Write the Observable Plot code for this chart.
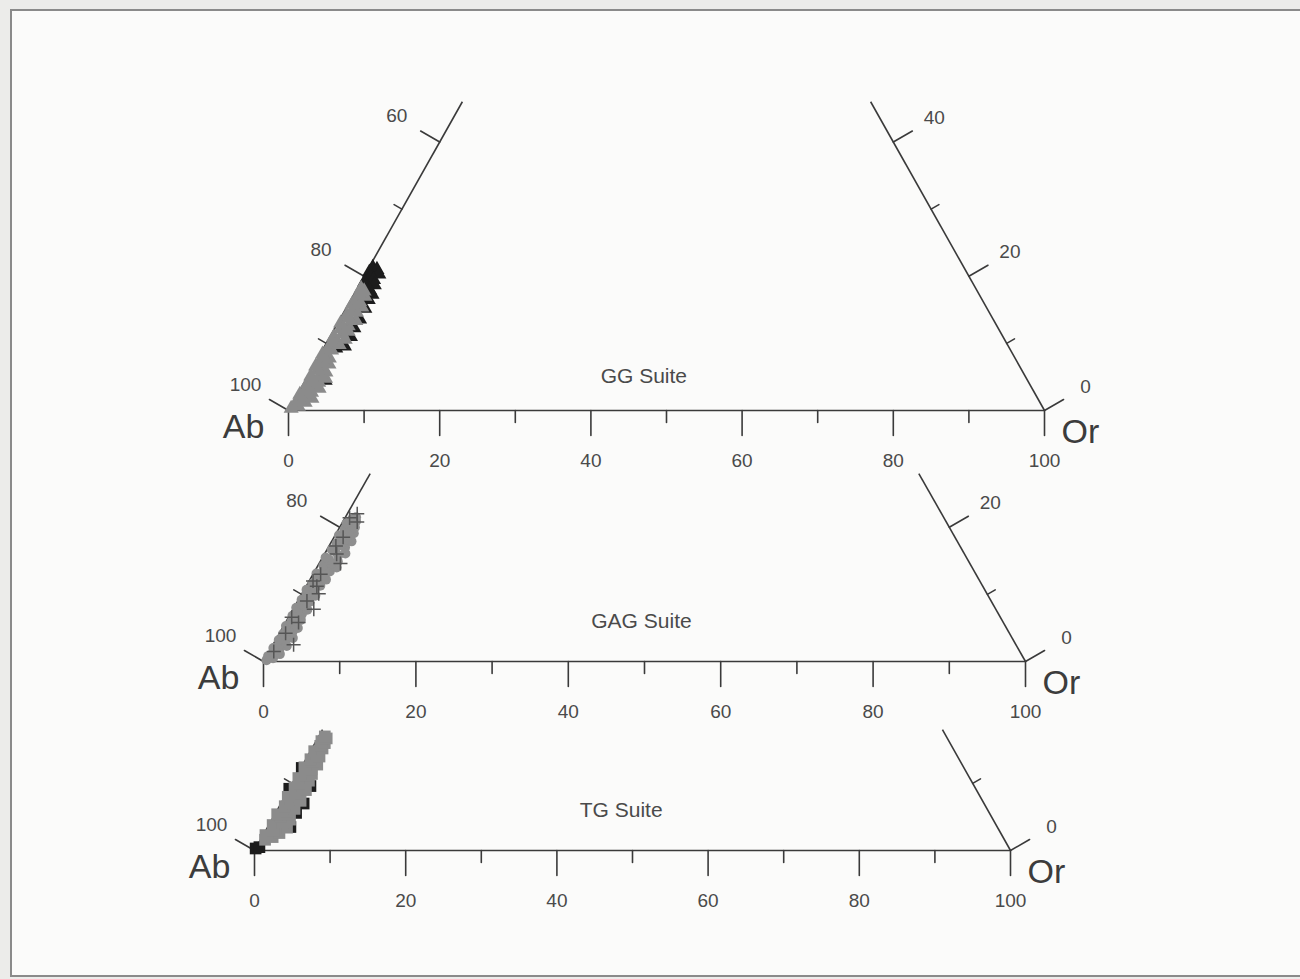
<!DOCTYPE html>
<html>
<head>
<meta charset="utf-8">
<script src="https://cdn.jsdelivr.net/npm/d3@7"></script>
<script src="https://cdn.jsdelivr.net/npm/@observablehq/plot@0.6"></script>
<style>
  html, body { margin: 0; padding: 0; background: #ececea; }
  #page { position: relative; width: 1300px; height: 979px; overflow: hidden; background: #ececea; }
  #frame { position: absolute; left: 10px; top: 9px; width: 1300px; height: 964px;
           border-top: 2px solid #8a8a8a; border-left: 2px solid #8a8a8a; border-bottom: 2px solid #8a8a8a;
           background: #fbfbfa; }
  .panel { position: absolute; left: 0; }
  .panel svg { overflow: visible; }
</style>
</head>
<body>
<div id="page"><div id="frame"></div></div>
<script>
// Feldspar analyses, each point as [Ab, Or, An] in mol %.
// GG Suite
const ggGray = [
  [99.5,0.2,0.3],[98.4,1.0,0.6],[98.7,0.4,0.9],[97.2,1.6,1.2],[97.8,0.7,1.5],[96.0,2.2,1.8],
  [96.8,1.1,2.1],[97.3,0.3,2.4],[95.6,1.7,2.7],[96.2,0.8,3.0],[94.3,2.4,3.3],[95.1,1.3,3.6],
  [95.6,0.5,3.9],[93.9,1.9,4.2],[94.5,1.0,4.5],[92.7,2.5,4.8],[94.5,0.4,5.1],[93.1,1.5,5.4],
  [92.2,2.1,5.7],[93.2,0.8,6.0],[92.3,1.4,6.3],[93.1,0.3,6.6],[91.2,1.9,6.9],[91.8,1.0,7.2],
  [92.0,0.5,7.5],[90.7,1.5,7.8],[91.1,0.8,8.1],[91.3,0.3,8.4],
  [89.8,1.2,9.0],[90.0,0.6,9.4],[88.4,1.8,9.8],[88.9,0.9,10.2],[87.2,2.2,10.6],[88.5,0.5,11.0],
  [87.2,1.4,11.4],[86.2,2.0,11.8],[87.0,0.8,12.2],[85.8,1.6,12.6],[86.6,0.4,13.0],[84.4,2.2,13.4],
  [85.1,1.1,13.8],[85.2,0.6,14.2],[83.7,1.7,14.6],[84.0,1.0,15.0],[82.6,2.0,15.4],[83.7,0.5,15.8],
  [82.5,1.3,16.2],[82.6,0.8,16.6],[81.4,1.6,17.0],[82.0,0.6,17.4],[81.1,1.1,17.8],[81.3,0.5,18.2]
];
const ggBlack = [
  [78.2,0.5,21.3],[77.8,1.2,21.0],[79.0,0.4,20.6],[77.9,1.8,20.3],[79.2,0.9,19.9],[79.0,1.5,19.5],
  [80.4,0.5,19.1],[79.3,2.0,18.7],[80.6,1.0,18.4],[80.3,1.8,17.9],[80.3,2.4,17.3],[81.2,2.3,16.5],
  [82.3,2.5,15.2],[83.8,2.6,13.6],[85.2,2.5,12.3],[86.3,2.7,11.0],[89.9,0.6,9.5],[89.1,1.6,9.3],
  [87.8,2.6,9.6],[92.9,2.6,4.5]
];
// GAG Suite
const gagGray = [
  [99.5,0.3,0.2],[98.5,1.0,0.5],[99.0,0.2,0.8],[97.3,1.6,1.1],[98.0,0.6,1.4],[97.1,1.2,1.7],
  [97.7,0.3,2.0],[95.8,1.9,2.3],[96.5,0.9,2.6],[95.7,1.4,2.9],[96.4,0.4,3.2],[94.4,2.1,3.5],
  [95.2,1.0,3.8],[95.4,0.5,4.1],[94.0,1.6,4.4],[94.4,0.9,4.7],[93.0,2.0,5.0],[94.4,0.3,5.3],
  [93.1,1.3,5.6],[93.4,0.7,5.9],[92.0,1.8,6.2],[92.4,1.1,6.5],[92.8,0.4,6.8],[91.4,1.5,7.1],
  [91.8,0.8,7.4],[90.4,1.9,7.7],[91.7,0.3,8.0],[90.5,1.2,8.3],[90.7,0.7,8.6],[89.5,1.6,8.9],
  [90.4,0.4,9.2],[89.4,1.1,9.5],[88.3,1.9,9.8],[89.3,0.6,10.1],[88.2,1.4,10.4],[89.0,0.3,10.7],
  [88.0,1.0,11.0],[86.9,1.8,11.3],[87.8,0.6,11.6],[86.8,1.3,11.9],[85.7,2.1,12.2],[86.7,0.8,12.5],
  [85.7,1.5,12.8],[86.5,0.4,13.1],[84.6,2.0,13.4],[85.2,1.1,13.7],[83.4,2.6,14.0],[85.0,0.7,14.3],
  [83.8,1.6,14.6],[82.8,2.3,14.9],[83.8,1.0,15.2],[84.1,0.4,15.5],[82.3,1.9,15.8],[81.2,2.7,16.1],
  [82.4,1.2,16.4],[82.7,0.6,16.7],[80.8,2.2,17.0],[81.2,1.5,17.3],[81.6,0.8,17.6],[79.5,2.6,17.9],
  [80.0,1.8,18.2],[80.5,1.0,18.5],[80.7,0.5,18.8],[78.6,2.3,19.1],[79.1,1.5,19.4],[79.5,0.8,19.7],
  [78.0,2.0,20.0],[78.5,1.2,20.3],[78.8,0.6,20.6],[77.4,1.7,20.9],[77.8,1.0,21.2],[77.1,1.4,21.5]
];
const gagCross = [
  [76.7,1.3,22.0],[77.3,1.9,20.8],[78.0,0.6,21.4],[80.3,1.2,18.5],[81.9,0.9,17.2],[82.6,2.8,14.6],
  [82.4,1.6,16.0],[86.0,1.0,13.0],[87.5,0.5,12.0],[87.4,1.4,11.2],[87.7,2.2,10.1],[89.8,1.2,9.0],
  [89.5,2.7,7.8],[93.0,0.4,6.6],[92.5,1.7,5.8],[95.0,0.8,4.2],[94.8,2.7,2.5],[97.9,0.6,1.5]
];
// TG Suite
const tgGray = [
  [97.8,0.6,1.6],[96.6,1.4,2.0],[97.4,0.3,2.3],[95.4,2.0,2.6],[96.0,1.0,3.0],[94.0,2.6,3.4],
  [95.7,0.5,3.8],[94.2,1.6,4.2],[93.0,2.4,4.6],[94.1,0.9,5.0],[92.8,1.8,5.4],[94.3,0.3,5.4],
  [92.9,1.3,5.8],[91.6,2.2,6.2],[92.7,0.7,6.6],[91.4,1.6,7.0],[90.2,2.4,7.4],[91.4,1.0,7.6],
  [91.6,0.4,8.0],[89.8,1.8,8.4],[90.3,1.1,8.6],[88.7,2.3,9.0],[90.0,0.6,9.4],[88.9,1.5,9.6],
  [89.1,0.9,10.0],[87.6,2.0,10.4],[88.8,0.4,10.8],[87.5,1.3,11.2],[86.7,1.9,11.4],[87.4,0.8,11.8],
  [86.4,1.5,12.1],[87.2,0.4,12.4],[85.3,1.9,12.8],[85.7,1.1,13.2],[85.8,0.6,13.6],[84.4,1.6,14.0],
  [84.6,1.0,14.4],[84.7,0.5,14.8],[83.4,1.4,15.2],[83.5,0.9,15.6],[82.7,1.3,16.0],[83.0,0.7,16.3],
  [82.1,1.2,16.7],[82.2,0.8,17.0]
];
const tgBlack = [
  [99.7,0.0,0.3],[99.1,0.4,0.5],[91.7,2.7,5.6],[87.8,2.6,9.6],[90.8,0.0,9.2],[90.0,3.0,7.0],
  [87.6,0.1,12.3],[93.5,3.0,3.5]
];

// Axis ticks (percent) and which ones carry labels
const orTicks = [0, 10, 20, 30, 40, 50, 60, 70, 80, 90, 100];
const orLabels = [0, 20, 40, 60, 80, 100];

const SQ3 = Math.sqrt(3) / 2;
// ternary composition -> cartesian (Ab at origin, Or at x = 100)
const tern = ([ab, or, an]) => ({x: or + an / 2, y: an * SQ3});

const font = "'Liberation Sans', Arial, Helvetica, sans-serif";
const ink = "#3a3a3a";
const textInk = "#4a4a4a";

// a plain line tick drawn by the vector mark
const tickShape = {draw(ctx, l) { ctx.moveTo(0, 0); ctx.lineTo(0, -l); }};

const panels = [
  {title: "GG Suite", top: 0, height: 480, ox: 288, oy: 410, kx: 7.56, ky: 7.75, anMax: 46,
   sideTicks: [0, 10, 20, 30, 40], sideLabels: [0, 20, 40], titleAt: [47, 4.4],
   series: [
     {data: ggBlack, symbol: "triangle", fill: "#1c1c1c", r: 5.6},
     {data: ggGray, symbol: "triangle", fill: "#8b8b8b", r: 5.6}
   ]},
  {title: "GAG Suite", top: 480, height: 245, ox: 263, oy: 181, kx: 7.62, ky: 7.75, anMax: 28,
   sideTicks: [0, 10, 20], sideLabels: [0, 20], titleAt: [49.6, 5.2],
   series: [
     {data: gagGray, symbol: "circle", fill: "#8e8e8e", r: 5},
     {data: gagCross, symbol: "plus", stroke: "#555", r: 4.6}
   ]},
  {title: "TG Suite", top: 725, height: 254, ox: 254, oy: 125, kx: 7.56, ky: 7.75, anMax: 18,
   sideTicks: [0, 10], sideLabels: [0], titleAt: [48.5, 5.2],
   series: [
     {data: tgBlack, symbol: "square", fill: "#1c1c1c", r: 6.6},
     {data: tgGray, symbol: "square", fill: "#8b8b8b", r: 6.6}
   ]}
];

const page = document.getElementById("page");

for (const p of panels) {
  const a = p.anMax;
  // base edge plus the two truncated side edges
  const frameLines = [
    [[100, 0, 0], [0, 100, 0]],
    [[100, 0, 0], [100 - a, 0, a]],
    [[0, 100, 0], [0, 100 - a, a]]
  ].map(([s, e]) => {
    const u = tern(s), v = tern(e);
    return {x1: u.x, y1: u.y, x2: v.x, y2: v.y};
  });

  const bottom = orTicks.map(o => ({...tern([100 - o, o, 0]), major: orLabels.includes(o), label: String(o)}));
  const left = p.sideTicks.map(an => ({...tern([100 - an, 0, an]), major: p.sideLabels.includes(an), label: String(100 - an)}));
  const right = p.sideTicks.map(an => ({...tern([0, 100 - an, an]), major: p.sideLabels.includes(an), label: String(an)}));

  const vertices = [
    {...tern([100, 0, 0]), label: "Ab", dx: -45, dy: 17},
    {...tern([0, 100, 0]), label: "Or", dx: 36, dy: 22}
  ];

  const tickMarks = (rows, rot, majorLen, minorLen) => [
    Plot.vector(rows.filter(d => d.major), {x: "x", y: "y", length: majorLen, rotate: rot, anchor: "start",
      shape: tickShape, stroke: ink, strokeWidth: 1.6}),
    Plot.vector(rows.filter(d => !d.major), {x: "x", y: "y", length: minorLen, rotate: rot, anchor: "start",
      shape: tickShape, stroke: ink, strokeWidth: 1.6})
  ];

  const dataMarks = p.series.map(s => Plot.dot(s.data.map(tern), {
    x: "x", y: "y", symbol: s.symbol, r: s.r,
    fill: s.fill ?? "none", stroke: s.stroke ?? "none", strokeWidth: s.stroke ? 1.5 : 0
  }));

  const chart = Plot.plot({
    width: 1300,
    height: p.height,
    x: {domain: [0, 100], range: [p.ox, p.ox + 100 * p.kx], axis: null},
    y: {domain: [0, 100], range: [p.oy, p.oy - 100 * p.ky], axis: null},
    style: {fontFamily: font, background: "transparent", overflow: "visible"},
    marks: [
      Plot.link(frameLines, {x1: "x1", y1: "y1", x2: "x2", y2: "y2", stroke: ink, strokeWidth: 1.6}),
      ...tickMarks(bottom, 180, 25, 12),
      ...tickMarks(left, -60, 22, 9),
      ...tickMarks(right, 60, 22, 9),
      Plot.text(bottom.filter(d => d.major), {x: "x", y: "y", text: "label", dy: 50, fontSize: 19, fill: textInk}),
      Plot.text(left.filter(d => d.major), {x: "x", y: "y", text: "label", dx: -43, dy: -26, fontSize: 19, fill: textInk}),
      Plot.text(right.filter(d => d.major), {x: "x", y: "y", text: "label", dx: 41, dy: -24, fontSize: 19, fill: textInk}),
      ...vertices.map(v => Plot.text([v], {x: "x", y: "y", text: "label", dx: v.dx, dy: v.dy, fontSize: 34, fill: "#3c3c3c"})),
      Plot.text([p.title], {x: () => p.titleAt[0], y: () => p.titleAt[1], text: d => d, fontSize: 21, fill: textInk}),
      ...dataMarks
    ]
  });
  const holder = document.createElement("div");
  holder.className = "panel";
  holder.style.top = p.top + "px";
  holder.appendChild(chart);
  page.appendChild(holder);
}
</script>
</body>
</html>
